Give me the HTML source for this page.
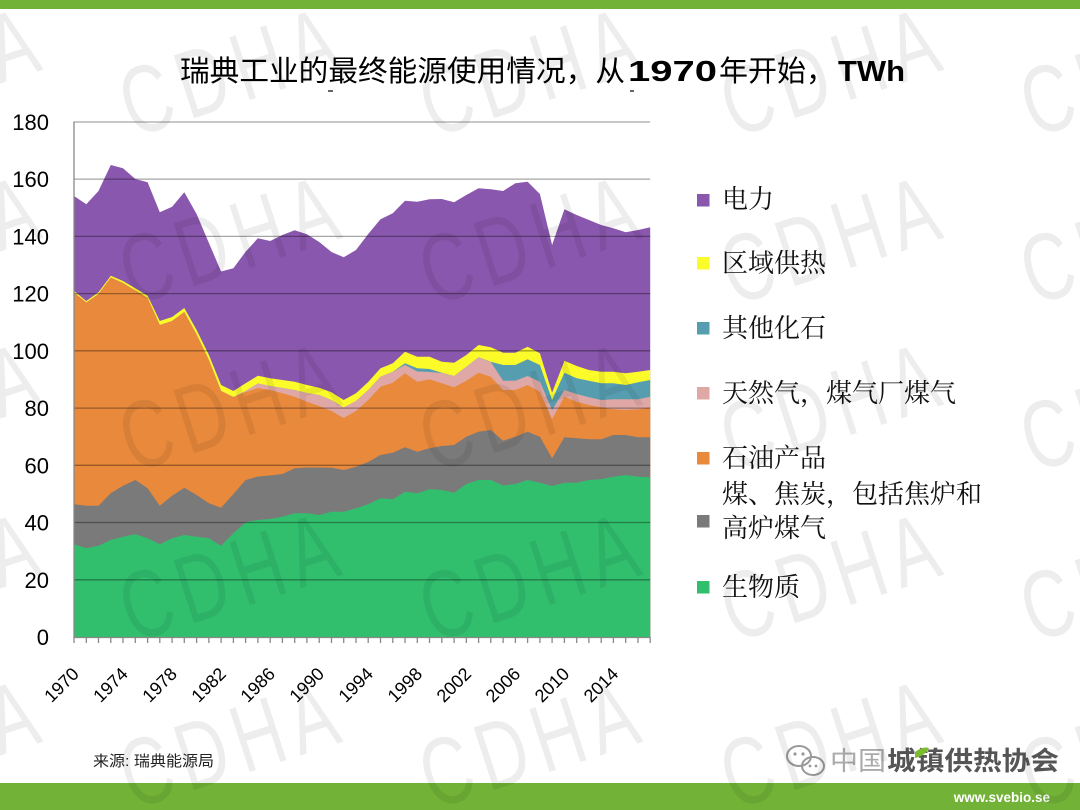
<!DOCTYPE html>
<html><head><meta charset="utf-8"><style>
html,body{margin:0;padding:0;background:#fff;}
svg{display:block;}
</style></head><body>
<svg width="1080" height="810" viewBox="0 0 1080 810" xmlns="http://www.w3.org/2000/svg">
<rect x="0" y="0" width="1080" height="810" fill="#fff"/>
<rect x="0" y="0" width="1080" height="9" fill="#72b236"/>
<rect x="0" y="783" width="1080" height="27" fill="#72b236"/>

<!-- title -->
<text y="81" font-size="29" fill="#000" font-family="'Liberation Sans','Noto Sans CJK SC',sans-serif"><tspan x="180" textLength="445" lengthAdjust="spacingAndGlyphs">瑞典工业的最终能源使用情况，从</tspan><tspan x="628" font-weight="bold" textLength="89" lengthAdjust="spacingAndGlyphs">1970</tspan><tspan x="719" textLength="116" lengthAdjust="spacingAndGlyphs">年开始，</tspan><tspan x="838" font-weight="bold" textLength="67" lengthAdjust="spacingAndGlyphs">TWh</tspan></text>
<rect x="328" y="90" width="5" height="2" fill="#666"/>
<rect x="630" y="90" width="4" height="2" fill="#666"/>

<!-- areas -->
<g>
<polygon fill="#8957ad" points="74,637 74,196 86.3,204.3 98.5,191 110.8,165 123,168.3 135.3,179 147.6,182.3 159.8,212.3 172.1,206.7 184.3,192.3 196.6,214 208.9,243 221.1,271.5 233.4,268.3 245.6,251.7 257.9,238.3 270.2,241 282.4,235 294.7,230.3 306.9,234.3 319.2,242 331.5,252 343.7,257.3 356,250 368.2,234 380.5,219.3 392.8,213.3 405,200.7 417.3,201.7 429.5,199.3 441.8,199 454.1,202.3 466.3,195 478.6,188.3 490.8,189.3 503.1,191 515.4,183.3 527.6,181.7 539.9,194 552.1,245 564.4,209.3 576.7,215 588.9,220 601.2,225 613.4,228.3 625.7,232.3 638,230 650.2,227.3 650.2,637"/>
<polygon fill="#fbfb2a" points="74,637 74,291 86.3,301 98.5,292.3 110.8,275.7 123,281 135.3,288.3 147.6,295.7 159.8,321 172.1,317 184.3,308 196.6,330 208.9,355 221.1,385 233.4,391 245.6,383.3 257.9,375.7 270.2,378.3 282.4,380 294.7,381.7 306.9,385 319.2,387.7 331.5,392.3 343.7,400 356,393.3 368.2,382 380.5,368.3 392.8,363.3 405,351.7 417.3,356.7 429.5,356.7 441.8,361.7 454.1,362.7 466.3,355 478.6,345 490.8,347.3 503.1,352.7 515.4,352.7 527.6,346.7 539.9,353.3 552.1,392.7 564.4,360.7 576.7,366 588.9,370 601.2,371.7 613.4,371.7 625.7,373.3 638,371.7 650.2,370 650.2,637"/>
<polygon fill="#579db0" points="74,637 74,292.5 86.3,302.5 98.5,294 110.8,277.5 123,283 135.3,290.5 147.6,298 159.8,325 172.1,321 184.3,312 196.6,334.5 208.9,360 221.1,391 233.4,397 245.6,391 257.9,383.5 270.2,386 282.4,388 294.7,390 306.9,393 319.2,395 331.5,400 343.7,407.5 356,401 368.2,390 380.5,376.7 392.8,371.7 405,363.3 417.3,368.3 429.5,369 441.8,372.7 454.1,376 466.3,366.7 478.6,357.3 490.8,361.7 503.1,365 515.4,365 527.6,359.3 539.9,365 552.1,400 564.4,372.7 576.7,378.3 588.9,380.7 601.2,383.3 613.4,383.3 625.7,385 638,382.3 650.2,380 650.2,637"/>
<polygon fill="#dfa8a6" points="74,637 74,292.5 86.3,302.5 98.5,294 110.8,277.5 123,283 135.3,290.5 147.6,298 159.8,325 172.1,321 184.3,312 196.6,334.5 208.9,360 221.1,391 233.4,397 245.6,391 257.9,383.5 270.2,386 282.4,388 294.7,390 306.9,393 319.2,395 331.5,400 343.7,407.5 356,401 368.2,390 380.5,376.7 392.8,371.7 405,365 417.3,371.5 429.5,372 441.8,373 454.1,376 466.3,366.7 478.6,357.3 490.8,362 503.1,380.7 515.4,380.7 527.6,376 539.9,381.7 552.1,410 564.4,390 576.7,394 588.9,397.3 601.2,400 613.4,399.3 625.7,399.3 638,399.3 650.2,396.7 650.2,637"/>
<polygon fill="#e8893c" points="74,637 74,292.5 86.3,302.5 98.5,294 110.8,277.5 123,283 135.3,290.5 147.6,298 159.8,325 172.1,321 184.3,312 196.6,334.5 208.9,360 221.1,391 233.4,397 245.6,392 257.9,388 270.2,390 282.4,393.3 294.7,396.7 306.9,401.7 319.2,406 331.5,411 343.7,418 356,411 368.2,400 380.5,386.7 392.8,382.7 405,373.3 417.3,381.7 429.5,379.3 441.8,383.3 454.1,387.3 466.3,380.7 478.6,372.7 490.8,376.7 503.1,390 515.4,390 527.6,385 539.9,391.7 552.1,419.3 564.4,396.7 576.7,401.7 588.9,405 601.2,407.3 613.4,409.3 625.7,410 638,409.3 650.2,407.3 650.2,637"/>
<polygon fill="#7a7a7a" points="74,637 74,504.3 86.3,505.7 98.5,505.7 110.8,493.3 123,485.7 135.3,480 147.6,488.3 159.8,505.7 172.1,495.7 184.3,487.7 196.6,495 208.9,503.3 221.1,507.7 233.4,494 245.6,480 257.9,476.5 270.2,475.5 282.4,474 294.7,468.3 306.9,467.5 319.2,467.5 331.5,467.7 343.7,470 356,466.7 368.2,462 380.5,455 392.8,452.7 405,447.3 417.3,451.7 429.5,448.3 441.8,446 454.1,445 466.3,436.7 478.6,431.7 490.8,430 503.1,440.7 515.4,436.7 527.6,431.7 539.9,436.7 552.1,458.3 564.4,437.3 576.7,438.3 588.9,439.3 601.2,439.3 613.4,435 625.7,435 638,437.3 650.2,437.3 650.2,637"/>
<polygon fill="#31bf6e" points="74,637 74,544.3 86.3,548.3 98.5,545.7 110.8,540 123,536.7 135.3,534.3 147.6,538.3 159.8,544.3 172.1,538.3 184.3,535 196.6,536.7 208.9,538.3 221.1,545.7 233.4,533.3 245.6,522.3 257.9,520 270.2,519 282.4,516.7 294.7,513.3 306.9,513.3 319.2,515 331.5,511.7 343.7,511.7 356,508.3 368.2,504.3 380.5,498.3 392.8,499.3 405,491.7 417.3,493.3 429.5,489.3 441.8,490 454.1,492.7 466.3,484 478.6,480 490.8,480 503.1,485.5 515.4,484 527.6,480 539.9,482.7 552.1,486 564.4,482.7 576.7,482.7 588.9,480 601.2,479.3 613.4,476.7 625.7,475 638,476.7 650.2,477.3 650.2,637"/>
</g>

<!-- gridlines -->
<g stroke="#000" stroke-opacity="0.35" stroke-width="1.3">
<line x1="74" y1="122" x2="650.2" y2="122"/>
<line x1="74" y1="179.1" x2="650.2" y2="179.1"/>
<line x1="74" y1="236.4" x2="650.2" y2="236.4"/>
<line x1="74" y1="293.6" x2="650.2" y2="293.6"/>
<line x1="74" y1="350.8" x2="650.2" y2="350.8"/>
<line x1="74" y1="408.1" x2="650.2" y2="408.1"/>
<line x1="74" y1="465.3" x2="650.2" y2="465.3"/>
<line x1="74" y1="522.5" x2="650.2" y2="522.5"/>
<line x1="74" y1="579.8" x2="650.2" y2="579.8"/>
</g>
<!-- axes -->
<g stroke="#888" stroke-width="1.3">
<line x1="74" y1="121.5" x2="74" y2="643"/>
<line x1="74" y1="637.5" x2="650.2" y2="637.5"/>
<path d="M86.3,637V643M98.5,637V643M110.8,637V643M123,637V643M135.3,637V643M147.6,637V643M159.8,637V643M172.1,637V643M184.3,637V643M196.6,637V643M208.9,637V643M221.1,637V643M233.4,637V643M245.6,637V643M257.9,637V643M270.2,637V643M282.4,637V643M294.7,637V643M306.9,637V643M319.2,637V643M331.5,637V643M343.7,637V643M356,637V643M368.2,637V643M380.5,637V643M392.8,637V643M405,637V643M417.3,637V643M429.5,637V643M441.8,637V643M454.1,637V643M466.3,637V643M478.6,637V643M490.8,637V643M503.1,637V643M515.4,637V643M527.6,637V643M539.9,637V643M552.1,637V643M564.4,637V643M576.7,637V643M588.9,637V643M601.2,637V643M613.4,637V643M625.7,637V643M638,637V643M650.2,637V643"/>
</g>

<!-- y labels -->
<g font-family="'Liberation Sans',sans-serif" font-size="22" fill="#000" text-anchor="end">
<text x="49" y="130">180</text>
<text x="49" y="187.1">160</text>
<text x="49" y="244.4">140</text>
<text x="49" y="301.6">120</text>
<text x="49" y="358.8">100</text>
<text x="49" y="416.1">80</text>
<text x="49" y="473.3">60</text>
<text x="49" y="530.5">40</text>
<text x="49" y="587.8">20</text>
<text x="49" y="645">0</text>
</g>

<!-- x labels -->
<g font-family="'Liberation Sans',sans-serif" font-size="18" fill="#000" text-anchor="end">
<text transform="translate(80,675) rotate(-45)">1970</text>
<text transform="translate(129,675) rotate(-45)">1974</text>
<text transform="translate(178.1,675) rotate(-45)">1978</text>
<text transform="translate(227.1,675) rotate(-45)">1982</text>
<text transform="translate(276.2,675) rotate(-45)">1986</text>
<text transform="translate(325.2,675) rotate(-45)">1990</text>
<text transform="translate(374.2,675) rotate(-45)">1994</text>
<text transform="translate(423.3,675) rotate(-45)">1998</text>
<text transform="translate(472.3,675) rotate(-45)">2002</text>
<text transform="translate(521.4,675) rotate(-45)">2006</text>
<text transform="translate(570.4,675) rotate(-45)">2010</text>
<text transform="translate(619.4,675) rotate(-45)">2014</text>
</g>

<!-- legend -->
<g>
<rect x="697" y="194" width="12.5" height="12.5" fill="#8957ad"/>
<rect x="697" y="257" width="12.5" height="12.5" fill="#fbfb2a"/>
<rect x="697" y="322" width="12.5" height="12.5" fill="#579db0"/>
<rect x="697" y="387" width="12.5" height="12.5" fill="#dfa8a6"/>
<rect x="697" y="452" width="12.5" height="12.5" fill="#e8893c"/>
<rect x="697" y="515" width="12.5" height="12.5" fill="#7a7a7a"/>
<rect x="697" y="581" width="12.5" height="12.5" fill="#31bf6e"/>
</g>
<g font-family="'Liberation Serif','Noto Serif CJK SC',serif" font-size="26" fill="#111">
<text x="722" y="208">电力</text>
<text x="722" y="272">区域供热</text>
<text x="722" y="337">其他化石</text>
<text x="722" y="402">天然气，煤气厂煤气</text>
<text x="722" y="467">石油产品</text>
<text x="722" y="503">煤、焦炭，包括焦炉和</text>
<text x="722" y="537">高炉煤气</text>
<text x="722" y="596">生物质</text>
</g>

<!-- footer -->
<text x="93" y="766" font-family="'Liberation Sans','Noto Sans CJK SC',sans-serif" font-size="15" fill="#222" textLength="121" lengthAdjust="spacingAndGlyphs">来源: 瑞典能源局</text>
<g fill="none" stroke="#999" stroke-width="2">
<ellipse cx="799" cy="756" rx="12" ry="10"/>
<ellipse cx="813" cy="766" rx="11" ry="9"/>
</g>
<circle cx="795" cy="754" r="1.6" fill="#999"/><circle cx="803" cy="754" r="1.6" fill="#999"/>
<circle cx="810" cy="766" r="1.4" fill="#999"/><circle cx="816" cy="766" r="1.4" fill="#999"/>
<text y="770" font-family="'Liberation Sans','Noto Sans CJK SC',sans-serif" font-size="26"><tspan x="830" fill="#aaa" textLength="56" lengthAdjust="spacingAndGlyphs">中国</tspan><tspan x="887" fill="#555" font-weight="bold" textLength="172" lengthAdjust="spacingAndGlyphs">城镇供热协会</tspan></text>
<path d="M915,752 q8,-6 14,-4 q-4,8 -14,10z" fill="#7dbb2e"/>
<text x="1050" y="802" font-family="'Liberation Sans',sans-serif" font-size="13.5" font-weight="bold" fill="#fff" text-anchor="end">www.svebio.se</text>

<!-- watermark -->
<g font-family="'Liberation Sans',sans-serif" font-size="96" fill="#000" fill-opacity="0.07" text-anchor="middle" letter-spacing="12">
<text y="34" transform="translate(-68,70) rotate(-18) scale(0.72,1)">CDHA</text>
<text y="34" transform="translate(232,70) rotate(-18) scale(0.72,1)">CDHA</text>
<text y="34" transform="translate(532,70) rotate(-18) scale(0.72,1)">CDHA</text>
<text y="34" transform="translate(833,70) rotate(-18) scale(0.72,1)">CDHA</text>
<text y="34" transform="translate(1133,70) rotate(-18) scale(0.72,1)">CDHA</text>
<text y="34" transform="translate(-68,238) rotate(-18) scale(0.72,1)">CDHA</text>
<text y="34" transform="translate(232,238) rotate(-18) scale(0.72,1)">CDHA</text>
<text y="34" transform="translate(532,238) rotate(-18) scale(0.72,1)">CDHA</text>
<text y="34" transform="translate(833,238) rotate(-18) scale(0.72,1)">CDHA</text>
<text y="34" transform="translate(1133,238) rotate(-18) scale(0.72,1)">CDHA</text>
<text y="34" transform="translate(-68,405) rotate(-18) scale(0.72,1)">CDHA</text>
<text y="34" transform="translate(232,405) rotate(-18) scale(0.72,1)">CDHA</text>
<text y="34" transform="translate(532,405) rotate(-18) scale(0.72,1)">CDHA</text>
<text y="34" transform="translate(833,405) rotate(-18) scale(0.72,1)">CDHA</text>
<text y="34" transform="translate(1133,405) rotate(-18) scale(0.72,1)">CDHA</text>
<text y="34" transform="translate(-68,575) rotate(-18) scale(0.72,1)">CDHA</text>
<text y="34" transform="translate(232,575) rotate(-18) scale(0.72,1)">CDHA</text>
<text y="34" transform="translate(532,575) rotate(-18) scale(0.72,1)">CDHA</text>
<text y="34" transform="translate(833,575) rotate(-18) scale(0.72,1)">CDHA</text>
<text y="34" transform="translate(1133,575) rotate(-18) scale(0.72,1)">CDHA</text>
<text y="34" transform="translate(-68,742) rotate(-18) scale(0.72,1)">CDHA</text>
<text y="34" transform="translate(232,742) rotate(-18) scale(0.72,1)">CDHA</text>
<text y="34" transform="translate(532,742) rotate(-18) scale(0.72,1)">CDHA</text>
<text y="34" transform="translate(833,742) rotate(-18) scale(0.72,1)">CDHA</text>
<text y="34" transform="translate(1133,742) rotate(-18) scale(0.72,1)">CDHA</text>
</g>
</svg>
</body></html>
